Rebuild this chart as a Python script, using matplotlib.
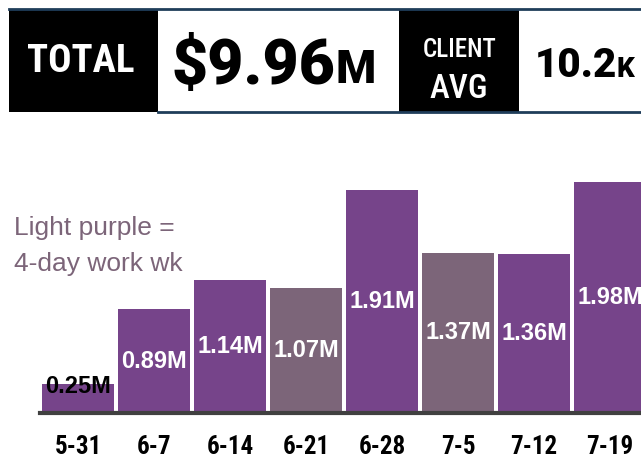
import matplotlib
matplotlib.use("Agg")
import matplotlib.pyplot as plt
from matplotlib import font_manager
from matplotlib.patches import Rectangle
from matplotlib.lines import Line2D

weeks = ["5-31", "6-7", "6-14", "6-21", "6-28", "7-5", "7-12", "7-19"]
revenue_m = [0.25, 0.89, 1.14, 1.07, 1.91, 1.37, 1.36, 1.98]
four_day_week = [False, False, False, True, False, True, False, False]
total_text = "$9.96"
client_avg_text = "10.2"

DARK = "#76448A"
LIGHT = "#7C6579"
LINE_BLUE = "#1F3D5A"

fl = font_manager.fontManager.ttflist
names = {f.name for f in fl}
NARROW = "DejaVu Sans"
for cand in ["Liberation Sans Narrow", "Roboto Condensed", "Open Sans Condensed",
             "Noto Sans Condensed", "Noto Sans SemiCondensed", "DejaVu Sans Condensed"]:
    if cand in names:
        NARROW = cand
        break
SANS = "Liberation Sans" if "Liberation Sans" in names else "DejaVu Sans"
HEAVY, HEAVY_W = SANS, "bold"
if any(f.name == "Roboto" and f.weight in (900, "black", "heavy") for f in fl):
    HEAVY, HEAVY_W = "Roboto", 900

W, H = 641, 459
fig = plt.figure(figsize=(W / 100, H / 100), dpi=100)
fig.patch.set_facecolor("white")

def fx(x):
    return x / W

def fy(y):
    return 1 - y / H

# ---- header ----
fig.add_artist(Line2D([fx(9), fx(641)], [fy(8.5), fy(8.5)], color=LINE_BLUE, lw=2))
fig.add_artist(Line2D([fx(158), fx(641)], [fy(112), fy(112)], color=LINE_BLUE, lw=2))
fig.add_artist(Rectangle((fx(9), fy(112)), fx(158) - fx(9), fy(10) - fy(112),
                         facecolor="black", edgecolor="none", transform=fig.transFigure))
fig.add_artist(Rectangle((fx(399), fy(112)), fx(519) - fx(399), fy(10) - fy(112),
                         facecolor="black", edgecolor="none", transform=fig.transFigure))

fig.text(fx(81), fy(62), "TOTAL", color="white", fontsize=28, fontweight="bold",
         family=NARROW, fontstretch="condensed", ha="center", va="center")
fig.text(fx(172), fy(84), total_text, color="black", fontsize=45, fontweight=HEAVY_W,
         family=HEAVY, ha="left", va="baseline")
fig.text(fx(335), fy(83), "M", color="black", fontsize=33, fontweight=HEAVY_W,
         family=HEAVY, ha="left", va="baseline")
fig.text(fx(460), fy(57), "CLIENT", color="white", fontsize=18, fontweight="medium",
         family=NARROW, fontstretch="condensed", ha="center", va="baseline")
fig.text(fx(459), fy(98), "AVG", color="white", fontsize=24, fontweight="medium",
         family=NARROW, fontstretch="condensed", ha="center", va="baseline")
fig.text(fx(535), fy(77), client_avg_text, color="black", fontsize=29, fontweight=HEAVY_W,
         family=HEAVY, ha="left", va="baseline")
fig.text(fx(616), fy(77), "K", color="black", fontsize=20, fontweight=HEAVY_W,
         family=HEAVY, ha="left", va="baseline")

# ---- legend note ----
fig.text(fx(14), fy(228), "Light purple =", color=LIGHT, fontsize=19,
         family=SANS, ha="left", va="center")
fig.text(fx(14), fy(264), "4-day work wk", color=LIGHT, fontsize=19,
         family=SANS, ha="left", va="center")

# ---- bar chart ----
px_per_m = 116.8
ymax = 2.2
base_y = 413
ax = fig.add_axes([fx(40), fy(base_y), 1 - fx(40), (ymax * px_per_m) / H])
ax.set_facecolor("none")
xs = list(range(len(weeks)))
colors = [LIGHT if f else DARK for f in four_day_week]
bars = ax.bar(xs, revenue_m, width=0.947, color=colors, zorder=1)
ax.set_xlim(-0.5, (W - 40) / 76 - 0.5)
ax.set_ylim(0, ymax)

for x, v in zip(xs, revenue_m):
    label = f"{v:.2f}M"
    if v < 0.5:
        ax.text(x, v * 0.9, label, color="black", fontsize=17, fontweight="bold",
                family=SANS, ha="center", va="center")
    else:
        ax.text(x, v / 2, label, color="white", fontsize=17, fontweight="bold",
                family=SANS, ha="center", va="center", clip_on=False)

for s in ["top", "right", "left"]:
    ax.spines[s].set_visible(False)
ax.spines["bottom"].set_color("#404040")
ax.spines["bottom"].set_linewidth(3)
ax.spines["bottom"].set_zorder(3)
ax.set_yticks([])
ax.set_xticks(xs)
ax.set_xticklabels(weeks, fontsize=18, fontweight="bold", family=NARROW,
                   fontstretch="condensed")
ax.tick_params(axis="x", length=0, pad=16)

fig.savefig("out.png", dpi=100, facecolor="white")
